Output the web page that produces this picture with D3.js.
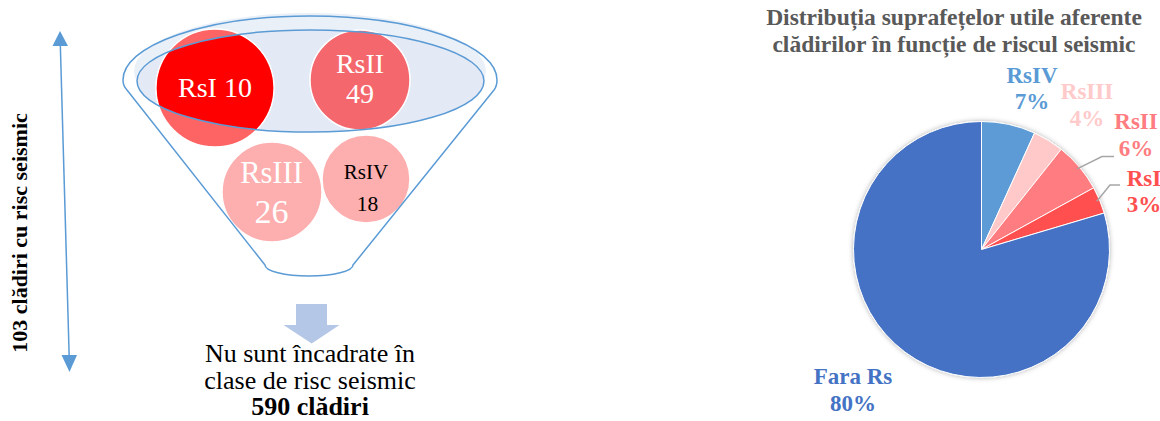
<!DOCTYPE html>
<html>
<head>
<meta charset="utf-8">
<script src="https://cdn.jsdelivr.net/npm/d3@7"></script>
<style>
  html, body { margin: 0; padding: 0; background: #fff; }
  svg { display: block; }
</style>
</head>
<body>
<svg id="chart" width="1160" height="421"></svg>
<script>
// ---------- data ----------
const funnelClasses = ["RsI", "RsII", "RsIII", "RsIV"];
const funnelCounts = [10, 49, 26, 18];
const riskBuildings = 103;
const otherBuildings = 590;

const pieCategories = ["RsIV", "RsIII", "RsII", "RsI", "Fara Rs"];
const pieShares = [6.8, 3.9, 6.3, 3.4, 79.6];
const pieTitle = ["Distribuția suprafețelor utile aferente", "clădirilor în funcție de riscul seismic"];

// ---------- styles / layout ----------
const pieColors = { "RsIV": "#5B9BD5", "RsIII": "#FFC9C9", "RsII": "#FF7C80", "RsI": "#FF5050", "Fara Rs": "#4472C4" };
const labelColors = { "RsIV": "#5B9BD5", "RsIII": "#FFCACA", "RsII": "#FF7C80", "RsI": "#FF5050", "Fara Rs": "#4472C4" };
const pieLayout = { cx: 981.5, cy: 249.5, r: 128 };
const labelPos = {
  "RsIV": { x: 1032, y1: 83, y2: 109 },
  "RsIII": { x: 1087, y1: 99, y2: 126 },
  "RsII": { x: 1136, y1: 129, y2: 156 },
  "RsI": { x: 1144, y1: 186, y2: 212 },
  "Fara Rs": { x: 853, y1: 384, y2: 411 }
};
const leaders = {
  "RsII": { elbow: [1102, 156.5], end: [1114, 156.5] },
  "RsI": { elbow: [1110, 185], end: [1120, 185] }
};

const circleLayout = {
  "RsI":  { cx: 215, cy: 88,  r: 59, fill: "#FF6464", text: "#fff" },
  "RsII": { cx: 360, cy: 80,  r: 50, fill: "#F4676C", text: "#fff" },
  "RsIII":{ cx: 272, cy: 192, r: 50, fill: "#FDAEAE", text: "#fff" },
  "RsIV": { cx: 366, cy: 179, r: 44, fill: "#FDAEAE", text: "#000" }
};

const svg = d3.select("#chart");
const serif = "'Liberation Serif', 'Times New Roman', serif";
const blue = "#5B9BD5";

// ---------- funnel ----------
const defs = svg.append("defs");
const inner = { cx: 310.5, cy: 81, rx: 173.5, ry: 51 };
defs.append("clipPath").attr("id", "innerClip")
  .append("ellipse").attr("cx", inner.cx).attr("cy", inner.cy).attr("rx", inner.rx).attr("ry", inner.ry);

const f = svg.append("g");
f.append("ellipse").attr("cx", 310).attr("cy", 71).attr("rx", 176).attr("ry", 58)
  .attr("fill", "#EAF0F8");
f.append("ellipse").attr("cx", inner.cx).attr("cy", inner.cy).attr("rx", inner.rx).attr("ry", inner.ry)
  .attr("fill", "#E3EAF5");

funnelClasses.forEach((c, i) => {
  const L = circleLayout[c];
  f.append("circle").attr("cx", L.cx).attr("cy", L.cy).attr("r", L.r)
    .attr("fill", L.fill).attr("stroke", "#fff").attr("stroke-width", 1.5);
  if (c === "RsI") {
    f.append("circle").attr("cx", L.cx).attr("cy", L.cy).attr("r", L.r - 0.75)
      .attr("fill", "#FF0000").attr("clip-path", "url(#innerClip)");
  }
});

// strokes
f.append("ellipse").attr("cx", inner.cx).attr("cy", inner.cy).attr("rx", inner.rx).attr("ry", inner.ry)
  .attr("fill", "none").attr("stroke", blue).attr("stroke-width", 1.5);
f.append("path")
  .attr("d", "M127,90 Q123,86 123,80 A187,64 0 0 1 497,80 Q497,86 494,90 L353,265 A44,11 0 0 1 265,265 Z")
  .attr("fill", "none").attr("stroke", blue).attr("stroke-width", 1.5).attr("stroke-linejoin", "round");

// circle texts
const ct = svg.append("g").attr("font-family", serif);
const tx = (x, y, s, size, col, weight) => ct.append("text").attr("x", x).attr("y", y)
  .attr("text-anchor", "middle").attr("font-size", size).attr("fill", col)
  .attr("font-weight", weight || "normal").text(s);
tx(215, 97, `${funnelClasses[0]} ${funnelCounts[0]}`, 28, circleLayout.RsI.text);
tx(360, 73, funnelClasses[1], 28, circleLayout.RsII.text);
tx(360, 103, funnelCounts[1], 28, circleLayout.RsII.text);
tx(271.5, 183, funnelClasses[2], 30.5, circleLayout.RsIII.text);
tx(271.5, 223, funnelCounts[2], 34, circleLayout.RsIII.text);
tx(366, 179, funnelClasses[3], 21, circleLayout.RsIV.text);
tx(367.5, 211, funnelCounts[3], 21.5, circleLayout.RsIV.text);

// vertical double arrow
const va = svg.append("g");
va.append("line").attr("x1", 60.3).attr("y1", 44).attr("x2", 69.2).attr("y2", 357)
  .attr("stroke", blue).attr("stroke-width", 1.5);
va.append("path").attr("d", "M60,31 L68,46 L52.5,46 Z").attr("fill", blue);
va.append("path").attr("d", "M69.5,372 L61.5,355 L77,355 Z").attr("fill", blue);
svg.append("text").attr("transform", "translate(27,233) rotate(-90)")
  .attr("text-anchor", "middle").attr("font-family", serif).attr("font-weight", "bold")
  .attr("font-size", 22).attr("fill", "#000").text(`${riskBuildings} clădiri cu risc seismic`);

// block arrow
svg.append("path").attr("d", "M296,304 L327,304 L327,325 L339.5,325 L311.7,343.5 L283.5,325 L296,325 Z")
  .attr("fill", "#B4C7E7");

tx(310, 362, "Nu sunt încadrate în", 26, "#000");
tx(310, 388.5, "clase de risc seismic", 26, "#000");
tx(310, 414.5, `${otherBuildings} clădiri`, 26, "#000", "bold");

// ---------- pie ----------
const pieData = pieCategories.map((c, i) => ({ cat: c, value: pieShares[i] }));
const pie = d3.pie().sort(null).value(d => d.value).startAngle(0).endAngle(2 * Math.PI);
const arcs = pie(pieData);
const arc = d3.arc().innerRadius(0).outerRadius(pieLayout.r);

const shadow = defs.append("filter").attr("id", "shadow").attr("x", "-20%").attr("y", "-20%")
  .attr("width", "140%").attr("height", "140%");
shadow.append("feDropShadow").attr("dx", 0).attr("dy", 0).attr("stdDeviation", 2.5)
  .attr("flood-color", "#000").attr("flood-opacity", 0.3);

const pg = svg.append("g").attr("transform", `translate(${pieLayout.cx},${pieLayout.cy})`);
const slices = pg.append("g").attr("filter", "url(#shadow)");
slices.selectAll("path").data(arcs).join("path")
  .attr("d", arc).attr("fill", d => pieColors[d.data.cat])
  .attr("stroke", "#fff").attr("stroke-width", 1);

// leader lines
arcs.forEach(a => {
  const L = leaders[a.data.cat];
  if (!L) return;
  const mid = (a.startAngle + a.endAngle) / 2;
  const sx = pieLayout.cx + Math.sin(mid) * (pieLayout.r - 3);
  const sy = pieLayout.cy - Math.cos(mid) * (pieLayout.r - 3);
  svg.append("polyline").attr("points", [[sx, sy], L.elbow, L.end].map(q => q.join(",")).join(" "))
    .attr("fill", "none").attr("stroke", "#A6A6A6").attr("stroke-width", 1.5);
});

// labels
const lg = svg.append("g").attr("font-family", serif).attr("font-weight", "bold")
  .attr("font-size", 23).attr("text-anchor", "middle");
arcs.forEach(a => {
  const c = a.data.cat, P = labelPos[c];
  lg.append("text").attr("x", P.x).attr("y", P.y1).attr("fill", labelColors[c]).text(c);
  lg.append("text").attr("x", P.x).attr("y", P.y2).attr("fill", labelColors[c])
    .text(Math.round(a.data.value) + "%");
});

// title
const tg = svg.append("g").attr("font-family", serif).attr("font-weight", "bold")
  .attr("font-size", 23.5).attr("text-anchor", "middle").attr("fill", "#595959");
pieTitle.forEach((t, i) => tg.append("text").attr("x", 954).attr("y", 25 + i * 27).text(t));
</script>
</body>
</html>
